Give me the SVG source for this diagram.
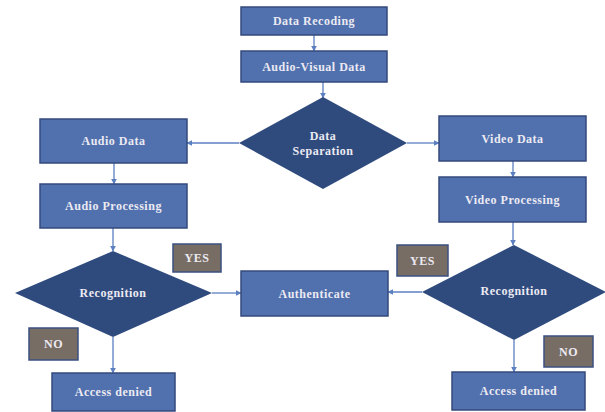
<svg xmlns="http://www.w3.org/2000/svg" width="605" height="412" viewBox="0 0 605 412">
<defs>
<marker id="ah" viewBox="0 0 10 10" refX="9" refY="5" markerWidth="6" markerHeight="6" orient="auto" markerUnits="userSpaceOnUse">
<path d="M0,0 L10,5 L0,10 z" fill="#5b7fc0"/>
</marker>
<style>
.box{fill:#5070ae;stroke:#34497c;stroke-width:1.5}
.dia{fill:#2f4b7e}
.tag{fill:#786d64;stroke:#3a5080;stroke-width:1.5}
.t{font-family:"Liberation Serif",serif;font-weight:bold;font-size:12px;letter-spacing:0.5px;fill:#eceaf2;text-anchor:middle;dominant-baseline:central}
.c{stroke:#5b7fc0;stroke-width:1.3;fill:none;marker-end:url(#ah)}
</style>
</defs>
<rect width="605" height="412" fill="#ffffff"/>
<g id="connectors">
<line class="c" x1="314" y1="35" x2="314" y2="51"/>
<line class="c" x1="323" y1="82" x2="323" y2="98"/>
<line class="c" x1="239" y1="143" x2="187" y2="143"/>
<line class="c" x1="407" y1="143" x2="439" y2="143"/>
<line class="c" x1="114" y1="163" x2="114" y2="184"/>
<line class="c" x1="113" y1="228" x2="113" y2="251"/>
<line class="c" x1="513" y1="161" x2="513" y2="177"/>
<line class="c" x1="513" y1="222" x2="513" y2="245"/>
<line class="c" x1="212" y1="293" x2="241" y2="293"/>
<line class="c" x1="422" y1="292" x2="388" y2="292"/>
<line class="c" x1="113" y1="337" x2="113" y2="373"/>
<line class="c" x1="514" y1="340" x2="514" y2="372"/>
</g>
<g id="data-recoding"><rect class="box" x="241" y="7" width="146" height="28"/><text class="t" x="314" y="21">Data Recoding</text></g>
<g id="audio-visual-data"><rect class="box" x="241" y="51" width="146" height="31"/><text class="t" x="314" y="66.5">Audio-Visual Data</text></g>
<g id="data-separation"><polygon class="dia" points="323,97 407,143 323,189 239,143"/><text class="t" x="323" y="136">Data</text><text class="t" x="323" y="151">Separation</text></g>
<g id="audio-data"><rect class="box" x="40" y="119" width="147" height="44"/><text class="t" x="113.5" y="141">Audio Data</text></g>
<g id="audio-processing"><rect class="box" x="40" y="184" width="147" height="44"/><text class="t" x="113.5" y="206">Audio Processing</text></g>
<g id="video-data"><rect class="box" x="439" y="116" width="147" height="45"/><text class="t" x="512.5" y="138.5">Video Data</text></g>
<g id="video-processing"><rect class="box" x="439" y="177" width="147" height="45"/><text class="t" x="512.5" y="199.5">Video Processing</text></g>
<g id="recognition-left"><polygon class="dia" points="113,251 212,293 113,337 15,293"/><text class="t" x="113" y="293">Recognition</text></g>
<g id="recognition-right"><polygon class="dia" points="514,245 606,292 514,340 422,292"/><text class="t" x="514" y="291">Recognition</text></g>
<g id="authenticate"><rect class="box" x="241" y="271" width="147" height="45"/><text class="t" x="314.5" y="293.5">Authenticate</text></g>
<g id="yes-left"><rect class="tag" x="173" y="244" width="48" height="28"/><text class="t" x="197" y="258">YES</text></g>
<g id="yes-right"><rect class="tag" x="397" y="245" width="51" height="31"/><text class="t" x="422.5" y="260.5">YES</text></g>
<g id="no-left"><rect class="tag" x="29" y="328" width="49" height="32"/><text class="t" x="53.5" y="344">NO</text></g>
<g id="no-right"><rect class="tag" x="544" y="336" width="49" height="31"/><text class="t" x="568.5" y="351.5">NO</text></g>
<g id="access-denied-left"><rect class="box" x="52" y="373" width="123" height="38"/><text class="t" x="113.5" y="392">Access denied</text></g>
<g id="access-denied-right"><rect class="box" x="452" y="372" width="133" height="38"/><text class="t" x="518.5" y="391">Access denied</text></g>
</svg>
